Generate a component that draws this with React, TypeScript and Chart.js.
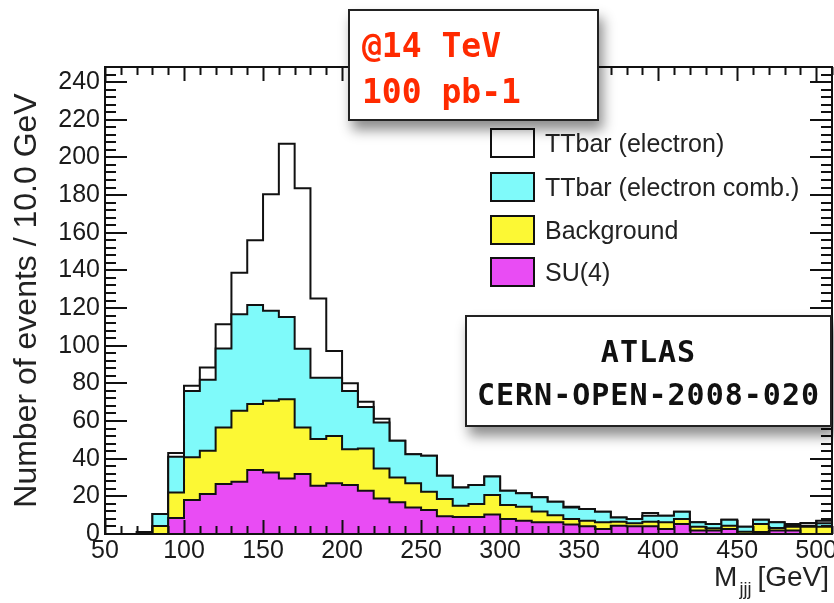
import React, { useEffect, useRef } from "react";
import { Chart, registerables } from "chart.js";

Chart.register(...registerables);

// ---- data (10 GeV bins, lower bin edges) ----
const binLow = [50, 60, 70, 80, 90, 100, 110, 120, 130, 140, 150, 160, 170, 180, 190, 200, 210, 220, 230, 240, 250, 260, 270, 280, 290, 300, 310, 320, 330, 340, 350, 360, 370, 380, 390, 400, 410, 420, 430, 440, 450, 460, 470, 480, 490, 500];
const su4 = [0, 0, 0, 0, 8.5, 18, 21.2, 26.5, 27.8, 34, 32.7, 29.5, 31.8, 25.6, 26.9, 26, 23, 18.9, 16.8, 14.1, 12.7, 9.4, 9, 9, 10.4, 8, 7, 6.2, 6.2, 5, 4.1, 2.7, 4.4, 4.1, 4.1, 2.7, 5.3, 1.8, 1.8, 2.7, 0, 1, 1.8, 1.8, 0, 0];
const background = [0, 0, 0, 4.2, 13.5, 22.7, 23, 30.1, 37.6, 35, 38, 42.1, 24.8, 24.8, 25.2, 19, 22.4, 15.9, 13.2, 12.9, 9.8, 9.2, 6, 6.9, 10.3, 7.4, 7.5, 5.8, 3.8, 3, 3, 3.5, 2.1, 1.6, 2.4, 3.5, 2.7, 2.1, 1.2, 1.7, 1.2, 4.3, 1.4, 2.1, 3.9, 3.9];
const ttbarComb = [0, 0, 0, 6.4, 19, 35.3, 37.7, 41.9, 51.3, 52.6, 47.8, 43.7, 41.8, 32.6, 30.9, 31, 22.1, 24.4, 19.5, 15.4, 19, 12.3, 9.7, 10.1, 9.9, 7.6, 7.1, 7.5, 7.1, 6.1, 6.2, 5.6, 2.3, 2.3, 3.2, 3.5, 3.8, 2.3, 2.3, 3.2, 2.7, 2.3, 3, 0.5, 0.5, 1.8];
const ttbarElectron = [0, 0, 1, 0, 2, 2.7, 6.5, 12.9, 22.1, 34.4, 61.9, 92, 85.2, 42, 14.2, 4, 2.7, 2, 0, 0, 0, 0, 0, 0, 0, 0, 0, 0, 0, 0.4, 0, 0, 0, 0, 1.4, 0, 0, 0, 0, 0, 0, 0, 0, 0.9, 1.4, 1.3];

const xRange = [50, 510];
const yRange = [0, 248];
const xTickStep = 50;
const yTickStep = 20;

// stacking order bottom -> top
const seriesLabels = ["SU(4)", "Background", "TTbar (electron comb.)", "TTbar (electron)"];
const seriesValues = [su4, background, ttbarComb, ttbarElectron];
const seriesColors = ["#e94cf4", "#fcf834", "#7ffafa", "#ffffff"];

const yTitle = "Number of events / 10.0 GeV";
const energyLines = ["@14 TeV", "100 pb-1"];
const atlasLines = ["ATLAS", "CERN-OPEN-2008-020"];

const SANS = "'Liberation Sans', Arial, sans-serif";
const HAND = "'DejaVu Sans Mono', monospace";

const framePlugin = {
  id: "rootFrame",
  afterDatasetsDraw(chart: any) {
    const { ctx, chartArea: a, scales } = chart;
    const xs = scales.x;
    const ys = scales.y;
    ctx.save();
    ctx.strokeStyle = "#111";
    ctx.lineWidth = 2;
    ctx.beginPath();
    for (let v = xRange[0]; v <= xRange[1]; v += 10) {
      const px = Math.round(xs.getPixelForValue(v)) + 0.5;
      const len = v % 50 === 0 ? 14 : 8;
      ctx.moveTo(px, a.bottom);
      ctx.lineTo(px, a.bottom - len);
      ctx.moveTo(px, a.top);
      ctx.lineTo(px, a.top + len);
    }
    for (let v = yRange[0]; v <= yRange[1]; v += 4) {
      const py = Math.round(ys.getPixelForValue(v));
      const len = v % 20 === 0 ? 22 : 11;
      ctx.moveTo(a.left, py);
      ctx.lineTo(a.left + len, py);
      ctx.moveTo(a.right, py);
      ctx.lineTo(a.right - len, py);
    }
    ctx.stroke();
    ctx.strokeRect(a.left, a.top, a.right - a.left, a.bottom - a.top);
    ctx.restore();
  },
};

function App() {
  const canvasRef = useRef<HTMLCanvasElement | null>(null);

  useEffect(() => {
    const canvas = canvasRef.current;
    if (!canvas) return;
    const datasets = seriesValues.map((vals, i) => ({
      label: seriesLabels[i],
      data: [
        ...binLow.map((x, k) => ({ x, y: vals[k] })),
        { x: xRange[1], y: vals[vals.length - 1] },
      ],
      stepped: true as const,
      borderColor: "#111",
      borderWidth: 2,
      backgroundColor: seriesColors[i],
      fill: i === 0 ? "origin" : "-1",
      pointRadius: 0,
      tension: 0,
    }));

    const chart = new Chart(canvas, {
      type: "line",
      data: { datasets },
      options: {
        animation: false,
        responsive: false,
        devicePixelRatio: 1,
        events: [],
        layout: { padding: { top: 67, right: 2, bottom: 0, left: 0 } },
        plugins: {
          legend: { display: false },
          tooltip: { enabled: false },
        },
        scales: {
          x: {
            type: "linear",
            min: xRange[0],
            max: xRange[1],
            grid: { display: false, drawTicks: false },
            border: { display: false },
            ticks: {
              stepSize: xTickStep,
              includeBounds: false,
              padding: 2,
              maxRotation: 0,
              color: "#1a1a1a",
              font: { size: 25, family: SANS },
            },
            afterFit: (scale: any) => {
              scale.height = 69;
              scale.paddingLeft = 0;
              scale.paddingRight = 0;
            },
          },
          y: {
            type: "linear",
            stacked: true,
            min: yRange[0],
            max: yRange[1],
            grid: { display: false, drawTicks: false },
            border: { display: false },
            ticks: {
              stepSize: yTickStep,
              includeBounds: false,
              padding: 5,
              color: "#1a1a1a",
              font: { size: 25, family: SANS },
            },
            title: {
              display: true,
              text: yTitle,
              color: "#222",
              font: { size: 32, family: SANS },
              padding: { top: 8, bottom: 0 },
            },
            afterFit: (scale: any) => {
              scale.width = 105;
              scale.paddingTop = 0;
              scale.paddingBottom = 0;
            },
          },
        },
      },
      plugins: [framePlugin],
    });
    return () => chart.destroy();
  }, []);

  const legendOrder = [3, 2, 1, 0];
  const legendTops = [128, 172, 215, 257];

  return (
    <div style={{ position: "absolute", left: 0, top: 0, width: 834, height: 603, background: "#fff", overflow: "hidden" }}>
      <canvas ref={canvasRef} width={834} height={603} style={{ display: "block", position: "absolute", left: 0, top: 0 }} />

      {/* legend */}
      {legendOrder.map((idx, r) => (
        <div key={idx} style={{ position: "absolute", left: 490, top: legendTops[r], height: 30, display: "flex", alignItems: "center" }}>
          <div style={{ width: 41, height: 26, border: "2px solid #111", background: seriesColors[idx] }} />
          <div style={{ marginLeft: 10, font: `25px ${SANS}`, color: "#222", whiteSpace: "nowrap", lineHeight: "30px" }}>{seriesLabels[idx]}</div>
        </div>
      ))}

      {/* x axis title */}
      <div style={{ position: "absolute", right: 5, top: 563, font: `28px ${SANS}`, color: "#222", lineHeight: "28px", whiteSpace: "nowrap" }}>
        M<span style={{ fontSize: 18, position: "relative", top: 9, marginLeft: 2, marginRight: 6 }}>jjj</span>[GeV]
      </div>

      {/* energy / luminosity box */}
      <div style={{ position: "absolute", left: 348, top: 9, width: 247, height: 108, border: "2px solid #222", background: "#fff", boxShadow: "4px 9px 12px rgba(0,0,0,0.45)" }}>
        {energyLines.map((t, i) => (
          <div key={i} style={{ position: "absolute", left: 12, top: 18 + i * 46, font: `bold 33px ${HAND}`, lineHeight: "33px", color: "#ff2a00", whiteSpace: "pre" }}>{t}</div>
        ))}
      </div>

      {/* ATLAS box */}
      <div style={{ position: "absolute", left: 465, top: 315, width: 363, height: 108, border: "2px solid #222", background: "#fff", boxShadow: "4px 9px 12px rgba(0,0,0,0.45)" }}>
        {atlasLines.map((t, i) => (
          <div key={i} style={{ position: "absolute", left: 0, right: 0, textAlign: "center", top: 20 + i * 43, font: `bold 30px ${HAND}`, lineHeight: "30px", letterSpacing: 1, color: "#111", whiteSpace: "pre" }}>{t}</div>
        ))}
      </div>
    </div>
  );
}

export default App;
